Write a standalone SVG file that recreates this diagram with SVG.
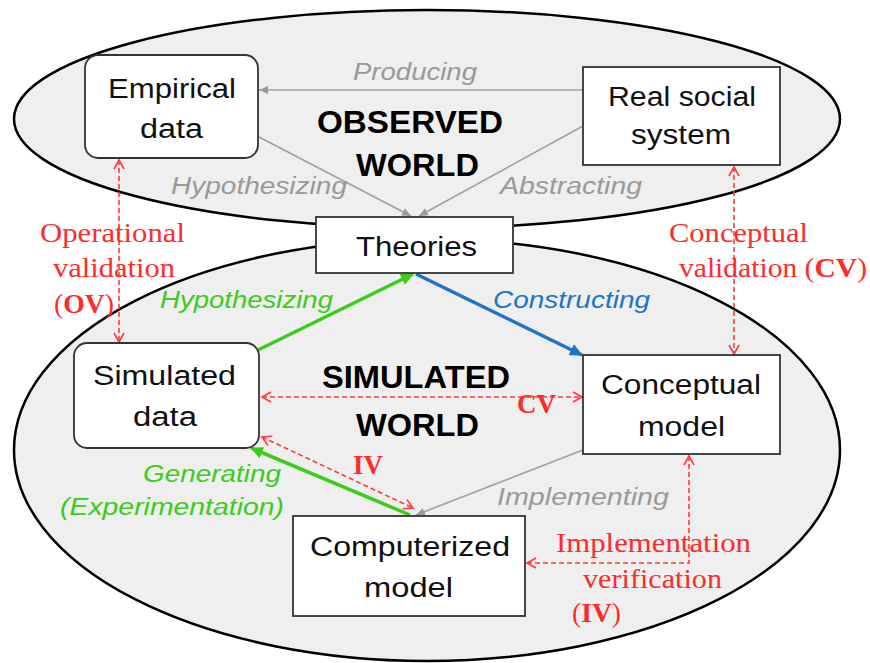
<svg xmlns="http://www.w3.org/2000/svg" width="870" height="663" viewBox="0 0 870 663">
<style>
.ell{fill:#efefef;stroke:#000;stroke-width:2.5}
.box{fill:#fff;stroke:#333;stroke-width:1.8}
.nt{font-family:"Liberation Sans",Arial,sans-serif;font-size:27px;fill:#111}
.wt{font-family:"Liberation Sans",Arial,sans-serif;font-size:31px;font-weight:bold;fill:#000}
.gt{font-family:"Liberation Sans",Arial,sans-serif;font-size:23px;font-style:italic;fill:#999}
.grt{font-family:"Liberation Sans",Arial,sans-serif;font-size:23px;font-style:italic;fill:#3ccc1a}
.bt{font-family:"Liberation Sans",Arial,sans-serif;font-size:23px;font-style:italic;fill:#1f73c8}
.rt{font-family:"Liberation Serif","Times New Roman",serif;font-size:27px;fill:#ff2a2a}
.gl{stroke:#a0a0a0;stroke-width:1.6;fill:none}
.grl{stroke:#3ccc1a;stroke-width:3.5;fill:none}
.bl{stroke:#1f73c8;stroke-width:3.5;fill:none}
.rl{stroke:#ff3a3a;stroke-width:1.6;stroke-dasharray:5 3;fill:none}
</style>
<defs>
<marker id="ag" markerWidth="10" markerHeight="10" refX="9" refY="5" orient="auto" markerUnits="userSpaceOnUse"><path d="M0,1 L9,5 L0,9 Z" fill="#999"/></marker>
<marker id="agr" markerWidth="14" markerHeight="14" refX="12" refY="7" orient="auto" markerUnits="userSpaceOnUse"><path d="M0,1 L13,7 L0,13 Z" fill="#3ccc1a"/></marker>
<marker id="ab" markerWidth="14" markerHeight="14" refX="12" refY="7" orient="auto" markerUnits="userSpaceOnUse"><path d="M0,1 L13,7 L0,13 Z" fill="#1f73c8"/></marker>
<marker id="ar" markerWidth="12" markerHeight="12" refX="10" refY="6" orient="auto-start-reverse" markerUnits="userSpaceOnUse"><path d="M1,1 L10,6 L1,11" fill="none" stroke="#ff3a3a" stroke-width="1.6"/></marker>
</defs>

<g id="observed-world">
<ellipse class="ell" cx="427" cy="119" rx="413" ry="109"/>
</g>
<g id="simulated-world">
<ellipse class="ell" cx="427" cy="450" rx="413" ry="211"/>
</g>

<g id="connectors">
<line class="gl" x1="583" y1="90" x2="259" y2="90" marker-end="url(#ag)"/>
<line class="gl" x1="259" y1="137" x2="411" y2="216" marker-end="url(#ag)"/>
<line class="gl" x1="583" y1="126" x2="419" y2="216" marker-end="url(#ag)"/>
<line class="grl" x1="258" y1="350" x2="413" y2="274" marker-end="url(#agr)"/>
<line class="bl" x1="416" y1="274" x2="582" y2="355" marker-end="url(#ab)"/>
<line class="grl" x1="410" y1="515" x2="251" y2="448" marker-end="url(#agr)"/>
<line class="gl" x1="583" y1="450" x2="416" y2="515" marker-end="url(#ag)"/>
<line class="rl" x1="119" y1="160" x2="119" y2="342" marker-start="url(#ar)" marker-end="url(#ar)"/>
<line class="rl" x1="734" y1="167" x2="734" y2="354" marker-start="url(#ar)" marker-end="url(#ar)"/>
<line class="rl" x1="262" y1="397" x2="582" y2="397" marker-start="url(#ar)" marker-end="url(#ar)"/>
<line class="rl" x1="262" y1="437" x2="413" y2="508" marker-start="url(#ar)" marker-end="url(#ar)"/>
<polyline class="rl" points="689,456 689,563 527,563" marker-start="url(#ar)" marker-end="url(#ar)"/>
</g>

<g id="world-labels">
<text class="wt" x="317" y="133" textLength="186" lengthAdjust="spacingAndGlyphs">OBSERVED</text>
<text class="wt" x="356" y="176" textLength="123" lengthAdjust="spacingAndGlyphs">WORLD</text>
<text class="wt" x="322" y="388" textLength="188" lengthAdjust="spacingAndGlyphs">SIMULATED</text>
<text class="wt" x="356" y="436" textLength="123" lengthAdjust="spacingAndGlyphs">WORLD</text>
</g>

<g id="connector-labels">
<text class="gt" x="353" y="80" textLength="124" lengthAdjust="spacingAndGlyphs">Producing</text>
<text class="gt" x="171" y="194" textLength="176" lengthAdjust="spacingAndGlyphs">Hypothesizing</text>
<text class="gt" x="500" y="194" textLength="142" lengthAdjust="spacingAndGlyphs">Abstracting</text>
<text class="grt" x="160" y="308" textLength="173" lengthAdjust="spacingAndGlyphs">Hypothesizing</text>
<text class="bt" x="493" y="308" textLength="157" lengthAdjust="spacingAndGlyphs">Constructing</text>
<text class="grt" x="143" y="482" textLength="138" lengthAdjust="spacingAndGlyphs">Generating</text>
<text class="grt" x="60" y="515" textLength="224" lengthAdjust="spacingAndGlyphs">(Experimentation)</text>
<text class="gt" x="497" y="505" textLength="172" lengthAdjust="spacingAndGlyphs">Implementing</text>
<text class="rt" x="40" y="242" textLength="145" lengthAdjust="spacingAndGlyphs">Operational</text>
<text class="rt" x="53" y="277" textLength="122" lengthAdjust="spacingAndGlyphs">validation</text>
<text class="rt" x="54" y="313" textLength="60" lengthAdjust="spacingAndGlyphs">(<tspan font-weight="bold">OV</tspan>)</text>
<text class="rt" x="669" y="242" textLength="139" lengthAdjust="spacingAndGlyphs">Conceptual</text>
<text class="rt" x="679" y="277" textLength="188" lengthAdjust="spacingAndGlyphs">validation (<tspan font-weight="bold">CV</tspan>)</text>
<text class="rt" x="517" y="413" font-weight="bold" textLength="39" lengthAdjust="spacingAndGlyphs">CV</text>
<text class="rt" x="353" y="474" font-weight="bold" textLength="30" lengthAdjust="spacingAndGlyphs">IV</text>
<text class="rt" x="556" y="552" textLength="195" lengthAdjust="spacingAndGlyphs">Implementation</text>
<text class="rt" x="583" y="588" textLength="139" lengthAdjust="spacingAndGlyphs">verification</text>
<text class="rt" x="572" y="622" textLength="49" lengthAdjust="spacingAndGlyphs">(<tspan font-weight="bold">IV</tspan>)</text>
</g>

<g id="empirical-data">
<rect class="box" x="85" y="55" width="173" height="103" rx="13"/>
<text class="nt" x="108" y="98" textLength="128" lengthAdjust="spacingAndGlyphs">Empirical</text>
<text class="nt" x="140" y="138" textLength="63" lengthAdjust="spacingAndGlyphs">data</text>
</g>
<g id="real-social-system">
<rect class="box" x="583" y="67" width="197" height="98"/>
<text class="nt" x="608" y="106" textLength="148" lengthAdjust="spacingAndGlyphs">Real social</text>
<text class="nt" x="631" y="144" textLength="100" lengthAdjust="spacingAndGlyphs">system</text>
</g>
<g id="theories">
<rect class="box" x="316" y="217" width="197" height="56"/>
<text class="nt" x="356" y="256" textLength="121" lengthAdjust="spacingAndGlyphs">Theories</text>
</g>
<g id="simulated-data">
<rect class="box" x="74" y="343" width="185" height="105" rx="13"/>
<text class="nt" x="93" y="385" textLength="143" lengthAdjust="spacingAndGlyphs">Simulated</text>
<text class="nt" x="133" y="426" textLength="64" lengthAdjust="spacingAndGlyphs">data</text>
</g>
<g id="conceptual-model">
<rect class="box" x="583" y="355" width="197" height="99"/>
<text class="nt" x="601" y="394" textLength="160" lengthAdjust="spacingAndGlyphs">Conceptual</text>
<text class="nt" x="638" y="436" textLength="87" lengthAdjust="spacingAndGlyphs">model</text>
</g>
<g id="computerized-model">
<rect class="box" x="293" y="516" width="232" height="100"/>
<text class="nt" x="310" y="556" textLength="200" lengthAdjust="spacingAndGlyphs">Computerized</text>
<text class="nt" x="364" y="597" textLength="89" lengthAdjust="spacingAndGlyphs">model</text>
</g>
</svg>
